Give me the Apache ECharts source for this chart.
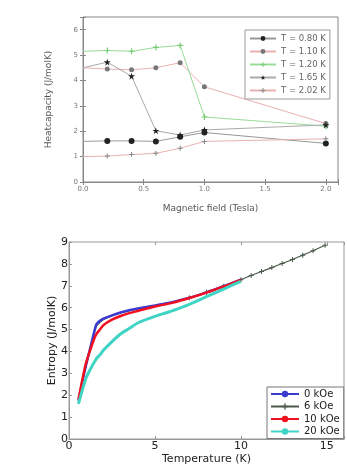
<!DOCTYPE html>
<html>
<head>
<meta charset="utf-8">
<script src="https://cdn.jsdelivr.net/npm/echarts@6/dist/echarts.min.js"></script>
<style>
html,body{margin:0;padding:0;background:#fff;}
#chart{width:347px;height:466px;}
</style>
</head>
<body>
<div id="chart"></div>
<script>
// ---------- Top panel: heat capacity vs magnetic field ----------
const fieldTesla = [0, 0.2, 0.4, 0.6, 0.8, 1.0, 2.0];
const hcNames = ['T = 0.80 K', 'T = 1.10 K', 'T = 1.20 K', 'T = 1.65 K', 'T = 2.02 K'];
const hcT080 = [1.60, 1.62, 1.62, 1.60, 1.78, 1.95, 1.52];
const hcT110 = [4.50, 4.45, 4.42, 4.50, 4.70, 3.75, 2.30];
const hcT120 = [5.15, 5.18, 5.15, 5.30, 5.38, 2.56, 2.20];
const hcT165 = [4.50, 4.72, 4.17, 2.02, 1.85, 2.05, 2.25];
const hcT202 = [1.00, 1.02, 1.08, 1.13, 1.33, 1.60, 1.70];
const fieldTicks = ['0.0', '0.5', '1.0', '1.5', '2.0'];

// ---------- Bottom panel: entropy vs temperature ----------
const entNames = ['0 kOe', '6 kOe', '10 kOe', '20 kOe'];
const tempK = [0.55, 0.8, 1.0, 1.25, 1.5, 1.6, 1.8, 2.0, 2.5, 3.0, 3.5, 4.0, 5.0, 6.0, 7.0, 8.0, 9.0, 10.0];
const s0kOe  = [1.75, 2.70, 3.40, 4.20, 5.00, 5.25, 5.40, 5.50, 5.65, 5.78, 5.88, 5.96, 6.10, 6.25, 6.45, 6.70, 6.98, 7.28];
const s10kOe = [1.80, 2.80, 3.50, 4.10, 4.65, 4.80, 5.00, 5.20, 5.45, 5.62, 5.75, 5.85, 6.05, 6.22, 6.44, 6.69, 6.97, 7.27];
const s20kOe = [1.60, 2.30, 2.80, 3.20, 3.55, 3.68, 3.85, 4.05, 4.45, 4.80, 5.05, 5.30, 5.60, 5.85, 6.15, 6.50, 6.85, 7.20];
const tempK6 = [0.55, 0.8, 1.0, 1.25, 1.5, 1.6, 1.8, 2.0, 2.5, 3.0, 3.5, 4.0, 5.0, 6.0, 7.0, 8.0, 9.0, 10.0, 10.6, 11.2, 11.8, 12.4, 13.0, 13.6, 14.2, 14.9];
const s6kOe  = [1.75, 2.70, 3.38, 4.15, 4.90, 5.15, 5.32, 5.45, 5.62, 5.76, 5.86, 5.95, 6.09, 6.25, 6.45, 6.70, 6.98, 7.28, 7.47, 7.65, 7.83, 8.02, 8.20, 8.40, 8.60, 8.85];
const tempTicks = [0, 5, 10, 15];

const STAR = 'path://M5,0L6.2,3.8L10,3.8L6.9,6.1L8.1,10L5,7.6L1.9,10L3.1,6.1L0,3.8L3.8,3.8Z';
const PLUS = 'path://M4,0H6V4H10V6H6V10H4V6H0V4H4Z';

const topLabel = {fontFamily: 'DejaVu Sans', fontSize: 7, color: '#777'};
const botLabel = {fontFamily: 'DejaVu Sans', fontSize: 11, color: '#222'};

const chart = echarts.init(document.getElementById('chart'), null, {renderer: 'canvas'});

const hcStyles = [
  {data: hcT080, line: '#999', sym: 'circle', size: 6, mcol: '#222'},
  {data: hcT110, line: '#eab0b0', sym: 'circle', size: 5, mcol: '#777'},
  {data: hcT120, line: '#98dc98', sym: PLUS, size: 6, mcol: '#7c7'},
  {data: hcT165, line: '#aaa', sym: STAR, size: 7, mcol: '#222'},
  {data: hcT202, line: '#eab0b0', sym: PLUS, size: 5, mcol: '#888'}
];

const series = [];
hcStyles.forEach((s, i) => {
  series.push({
    name: hcNames[i], type: 'line', xAxisIndex: 0, yAxisIndex: 0,
    data: fieldTesla.map((x, j) => x === 0 ? {value: [x, s.data[j]], symbol: 'none'} : [x, s.data[j]]),
    symbol: s.sym, symbolSize: s.size, showAllSymbol: true,
    lineStyle: {color: s.line, width: 1},
    itemStyle: {color: s.mcol},
    animation: false, z: 3
  });
});

const entStyles = [
  {x: tempK, y: s0kOe, color: '#3a3ad0', width: 2.5, sym: 'none'},
  {x: tempK6, y: s6kOe, color: '#4a5a4a', width: 1.2, sym: PLUS},
  {x: tempK, y: s10kOe, color: '#f01020', width: 2.5, sym: 'none'},
  {x: tempK, y: s20kOe, color: '#40d4c4', width: 3, sym: 'none'}
];
const entZ = [4, 3, 5, 6];
entStyles.forEach((s, i) => {
  series.push({
    name: entNames[i], type: 'line', xAxisIndex: 2, yAxisIndex: 2,
    data: s.x.map((x, j) => x < 7 ? {value: [x, s.y[j]], symbol: 'none'} : [x, s.y[j]]),
    smooth: 0.3,
    symbol: s.sym, symbolSize: 5, showAllSymbol: true,
    lineStyle: {color: s.color, width: s.width},
    itemStyle: {color: s.color},
    animation: false, z: entZ[i]
  });
});

const option = {
  backgroundColor: '#fff',
  animation: false,
  grid: [
    {left: 83, top: 17, right: 9, height: 165, show: true, borderColor: '#888', borderWidth: 1, backgroundColor: '#fff'},
    {left: 69, top: 242, right: -7, height: 200, show: true, borderColor: '#999', borderWidth: 1, backgroundColor: '#fff'}
  ],
  legend: [
    {
      data: hcNames, orient: 'vertical', left: 245, top: 30,
      itemWidth: 26, itemHeight: 6, itemGap: 4,
      padding: [4, 4, 4, 4],
      borderColor: '#999', borderWidth: 1, backgroundColor: '#fff',
      textStyle: {fontFamily: 'DejaVu Sans', fontSize: 8.5, color: '#666'}
    },
    {
      data: entNames, orient: 'vertical', left: 267, top: 387,
      itemWidth: 28, itemHeight: 8, itemGap: 2.5,
      padding: [2, 4, 2, 3],
      borderColor: '#777', borderWidth: 1, backgroundColor: '#fff',
      textStyle: {fontFamily: 'DejaVu Sans', fontSize: 10, color: '#222'}
    }
  ],
  xAxis: [
    {
      gridIndex: 0, type: 'value', min: 0, max: 2.1, interval: 0.5,
      name: 'Magnetic field (Tesla)', nameLocation: 'middle', nameGap: 22, nameMoveOverlap: false,
      nameTextStyle: {fontFamily: 'DejaVu Sans', fontSize: 9, color: '#555'},
      axisLine: {lineStyle: {color: '#888'}},
      axisTick: {inside: true, length: 3, lineStyle: {color: '#888'}},
      axisLabel: Object.assign({margin: 4, formatter: v => fieldTicks.includes(v.toFixed(1)) ? v.toFixed(1) : ''}, topLabel),
      splitLine: {show: false}
    },
    {
      gridIndex: 0, type: 'value', min: 0, max: 2.1, interval: 0.5, position: 'top',
      axisLine: {show: false}, axisTick: {inside: true, length: 3, lineStyle: {color: '#888'}},
      axisLabel: {show: false}, splitLine: {show: false}
    },
    {
      gridIndex: 1, type: 'value', min: 0, max: 16, interval: 5,
      name: 'Temperature (K)', nameLocation: 'middle', nameGap: 15, nameMoveOverlap: false,
      nameTextStyle: {fontFamily: 'DejaVu Sans', fontSize: 11, color: '#222'},
      axisLine: {lineStyle: {color: '#999'}},
      axisTick: {inside: true, length: 3, lineStyle: {color: '#999'}},
      axisLabel: Object.assign({margin: 2, formatter: v => tempTicks.includes(v) ? String(v) : ''}, botLabel),
      splitLine: {show: false}
    },
    {
      gridIndex: 1, type: 'value', min: 0, max: 16, interval: 5, position: 'top',
      axisLine: {show: false}, axisTick: {inside: true, length: 3, lineStyle: {color: '#999'}},
      axisLabel: {show: false}, splitLine: {show: false}
    }
  ],
  yAxis: [
    {
      gridIndex: 0, type: 'value', min: 0, max: 6.5, interval: 1,
      name: 'Heatcapacity (J/molK)', nameLocation: 'middle', nameGap: 30, nameMoveOverlap: false,
      nameTextStyle: {fontFamily: 'DejaVu Sans', fontSize: 9, color: '#555'},
      axisLine: {lineStyle: {color: '#888'}},
      axisTick: {inside: true, length: 3, lineStyle: {color: '#888'}},
      axisLabel: Object.assign({margin: 5, formatter: v => Number.isInteger(v) ? String(v) : ''}, topLabel),
      splitLine: {show: false}
    },
    {
      gridIndex: 0, type: 'value', min: 0, max: 6.5, interval: 1, position: 'right',
      axisLine: {show: false}, axisTick: {inside: true, length: 3, lineStyle: {color: '#888'}},
      axisLabel: {show: false}, splitLine: {show: false}
    },
    {
      gridIndex: 1, type: 'value', min: 0, max: 9, interval: 1,
      name: 'Entropy (J/molK)', nameLocation: 'middle', nameGap: 11, nameMoveOverlap: false,
      nameTextStyle: {fontFamily: 'DejaVu Sans', fontSize: 11, color: '#222'},
      axisLine: {lineStyle: {color: '#999'}},
      axisTick: {inside: true, length: 3, lineStyle: {color: '#999'}},
      axisLabel: Object.assign({margin: 1}, botLabel),
      splitLine: {show: false}
    }
  ],
  series: series
};
chart.setOption(option);
</script>
</body>
</html>
